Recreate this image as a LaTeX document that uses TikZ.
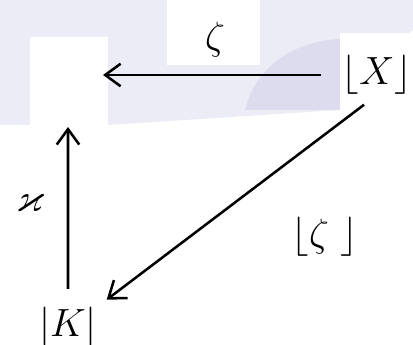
\documentclass[tikz,border=0pt]{standalone}
\usepackage{amssymb}
\usetikzlibrary{arrows.meta}

\definecolor{lavlight}{RGB}{236,236,247}
\definecolor{lavdark}{RGB}{220,220,238}

\begin{document}
\begin{tikzpicture}[
    obj/.style={inner sep=0pt, font=\fontsize{20.74}{24}\selectfont, scale=1.35, transform shape},
    lbl/.style={inner sep=0pt, font=\fontsize{20.74}{24}\selectfont, scale=1.35, transform shape},
    arr/.style={-{Straight Barb[length=11pt,width=16pt]}, line width=1.8pt}
]
\useasboundingbox (0,0) rectangle (10.325,8.625);

% faint watermark behind the diagram
\fill[lavlight] (0,5.5) -- (0,8.625) -- (10.325,8.625) -- (10.325,7.875)
    .. controls (9.5,7.2) .. (8.5,5.875) -- (2.7,5.5) -- cycle;
\fill[lavdark] (6.125,5.875) .. controls (6.4,7.0) and (7.4,7.6) .. (8.5,7.65)
    -- (8.5,5.875) -- cycle;
\fill[white] (0.75,5.425) rectangle (2.7,7.7);
\fill[white] (4.175,7.0) rectangle (6.5,8.625);
\fill[white] (8.5,5.5) rectangle (10.325,7.8);

\node[obj] (X) at (9.42,6.75) {$\lfloor X\rfloor$};
\node[obj] (K) at (1.7,0.45) {$|K|$};
\coordinate (A) at (1.7,6.75);

\node[lbl] (zeta)  at (5.375,7.625) {$\zeta$};
\node[lbl] (kappa) at (0.75,3.55) {$\varkappa$};
\node[lbl] (fzeta) at (8.125,2.7) {$\lfloor\zeta\ \rfloor$};

\draw[arr, shorten <=0.5cm, shorten >=0.875cm] (X) -- (A);
\draw[arr, shorten <=0.45cm, shorten >=1.3cm] (K) -- (A);
\draw[arr, shorten <=0.4cm, shorten >=0.3cm] (X.south) -- (K.north east);

\end{tikzpicture}
\end{document}
